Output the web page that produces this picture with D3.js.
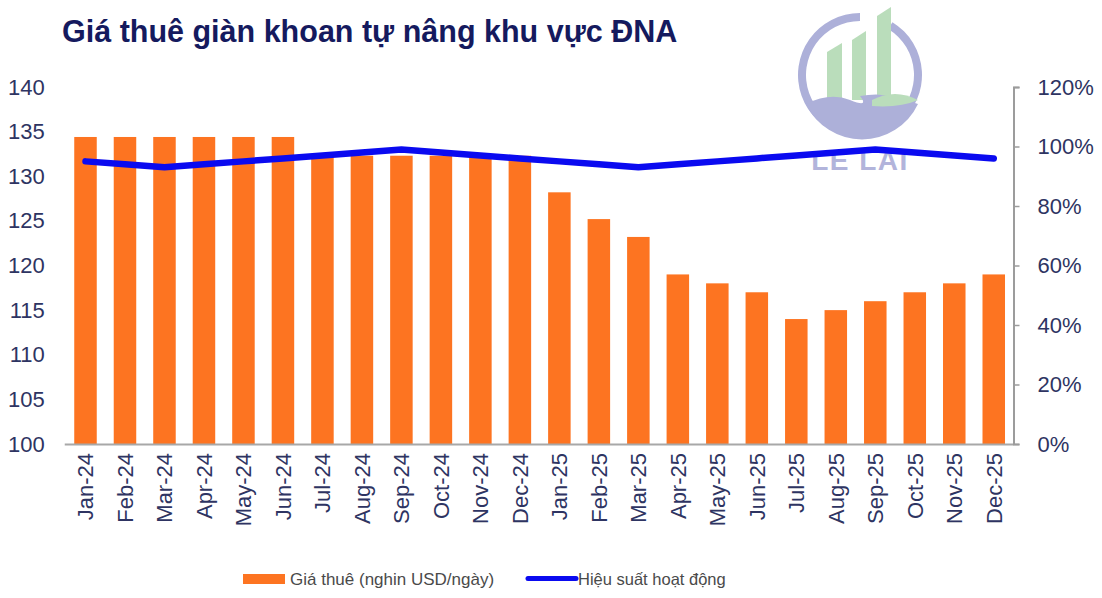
<!DOCTYPE html>
<html>
<head>
<meta charset="utf-8">
<script src="https://cdn.jsdelivr.net/npm/d3@7"></script>
<style>
  html, body { margin: 0; padding: 0; background: #fff; }
  svg { display: block; }
  text { font-family: "Liberation Sans", Arial, sans-serif; }
</style>
</head>
<body>
<svg id="chart" width="1102" height="598"></svg>
<script>
// ---- data ----
const months = ["Jan-24","Feb-24","Mar-24","Apr-24","May-24","Jun-24","Jul-24","Aug-24","Sep-24","Oct-24","Nov-24","Dec-24",
                "Jan-25","Feb-25","Mar-25","Apr-25","May-25","Jun-25","Jul-25","Aug-25","Sep-25","Oct-25","Nov-25","Dec-25"];
const rentPrice = [134.4,134.4,134.4,134.4,134.4,134.4,132.3,132.3,132.3,132.3,132.3,132.3,
                   128.2,125.2,123.2,119,118,117,114,115,116,117,118,119];
const utilization = [95,94,93,94,95,96,97,98,99,98,97,96,
                     95,94,93,94,95,96,97,98,99,98,97,96];
const leftTicks = [100,105,110,115,120,125,130,135,140];
const rightTicks = [0,20,40,60,80,100,120];
const titleText = "Giá thuê giàn khoan tự nâng khu vực ĐNA";
const legendBar = "Giá thuê (nghin USD/ngày)";
const legendLine = "Hiệu suất hoạt động";

// ---- layout ----
const svg = d3.select("#chart");
const plot = { left: 65.75, right: 1013.5, top: 87, bottom: 444 };
const barColor = "#fd7421";
const lineColor = "#0a0af0";
const labelColor = "#2e3462";

const x = d3.scaleBand().domain(months).range([plot.left, plot.right])
  .paddingInner(0.43).paddingOuter(0.215);
const yL = d3.scaleLinear().domain([100, 140]).range([plot.bottom, plot.top]);
const yR = d3.scaleLinear().domain([0, 120]).range([plot.bottom, plot.top]);

// title
svg.append("text").attr("x", 62).attr("y", 42)
  .attr("font-size", 30.5).attr("font-weight", "bold").attr("fill", "#151a5e")
  .text(titleText);

// bars
svg.append("g").selectAll("rect").data(months).join("rect")
  .attr("x", d => x(d)).attr("width", x.bandwidth())
  .attr("y", (d, i) => yL(rentPrice[i]))
  .attr("height", (d, i) => yL(100) - yL(rentPrice[i]))
  .attr("fill", barColor);

// watermark logo
const wm = svg.append("g").attr("opacity", 0.95);
wm.append("path")
  .attr("d", d3.arc()({innerRadius: 54, outerRadius: 62, startAngle: 0.55, endAngle: 2*Math.PI}))
  .attr("transform", "translate(860,75)").attr("fill", "#a9acd8");
wm.append("path").attr("d", "M827,52 L842,43 L842,100 L827,100 Z").attr("fill", "#b7dcb8");
wm.append("path").attr("d", "M852,40 L866,31 L866,100 L852,100 Z").attr("fill", "#b7dcb8");
wm.append("path").attr("d", "M877,16 L891,7 L891,100 L877,100 Z").attr("fill", "#b7dcb8");
wm.append("path").attr("d", "M806,104 Q830,92 850,100 Q870,108 860,96 Q880,92 900,98 L918,104 A62,62 0 0 1 806,104 Z").attr("fill", "#a9acd8");
wm.append("path").attr("d", "M872,100 Q895,88 918,100 Q900,108 872,106 Z").attr("fill", "#b7dcb8");
wm.append("text").attr("x", 860).attr("y", 170).attr("text-anchor", "middle")
  .attr("font-size", 28).attr("font-weight", "bold").attr("letter-spacing", 1.5)
  .attr("fill", "#aeb1da").text("LE LAI");

// baseline
svg.append("line").attr("x1", plot.left - 1).attr("x2", plot.right)
  .attr("y1", plot.bottom + 0.5).attr("y2", plot.bottom + 0.5)
  .attr("stroke", "#a8a8a8").attr("stroke-width", 2);

// left axis (labels only)
const gL = svg.append("g").attr("transform", `translate(${plot.left},0)`)
  .call(d3.axisLeft(yL).tickValues(leftTicks).tickSize(0).tickPadding(21));
gL.select(".domain").remove();
gL.selectAll("text").attr("font-size", 22).attr("fill", labelColor)
  .attr("font-family", "Liberation Sans, Arial, sans-serif");

// right axis
const gR = svg.append("g").attr("transform", `translate(${plot.right},0)`)
  .call(d3.axisRight(yR).tickValues(rightTicks).tickSize(6).tickPadding(18).tickSizeOuter(6)
    .tickFormat(d => d + "%"));
gR.select(".domain").attr("stroke", "#9c9c9c").attr("stroke-width", 2);
gR.selectAll(".tick line").attr("stroke", "#9c9c9c").attr("stroke-width", 1.5);
gR.selectAll("text").attr("font-size", 22).attr("fill", labelColor)
  .attr("font-family", "Liberation Sans, Arial, sans-serif");

// x axis labels (rotated)
const gX = svg.append("g").attr("transform", `translate(0,${plot.bottom})`)
  .call(d3.axisBottom(x).tickSize(0).tickPadding(0));
gX.select(".domain").remove();
gX.selectAll("text")
  .attr("font-size", 22).attr("fill", labelColor)
  .attr("font-family", "Liberation Sans, Arial, sans-serif")
  .attr("text-anchor", "end")
  .attr("transform", "rotate(-90)")
  .attr("x", -9).attr("y", 0).attr("dy", "0.36em");

// line
const line = d3.line()
  .x((d, i) => x(months[i]) + x.bandwidth() / 2)
  .y(d => yR(d));
svg.append("path").datum(utilization)
  .attr("d", line).attr("fill", "none")
  .attr("stroke", lineColor).attr("stroke-width", 6.5)
  .attr("stroke-linecap", "round").attr("stroke-linejoin", "round");

// legend
const lg = svg.append("g");
lg.append("rect").attr("x", 243).attr("y", 574).attr("width", 42).attr("height", 10).attr("fill", barColor);
lg.append("text").attr("x", 290).attr("y", 585).attr("font-size", 17).attr("fill", "#4a4a4a").text(legendBar);
lg.append("line").attr("x1", 528).attr("x2", 576).attr("y1", 578.5).attr("y2", 578.5)
  .attr("stroke", lineColor).attr("stroke-width", 5).attr("stroke-linecap", "round");
lg.append("text").attr("x", 578).attr("y", 585).attr("font-size", 16.5).attr("fill", "#4a4a4a").text(legendLine);
</script>
</body>
</html>
